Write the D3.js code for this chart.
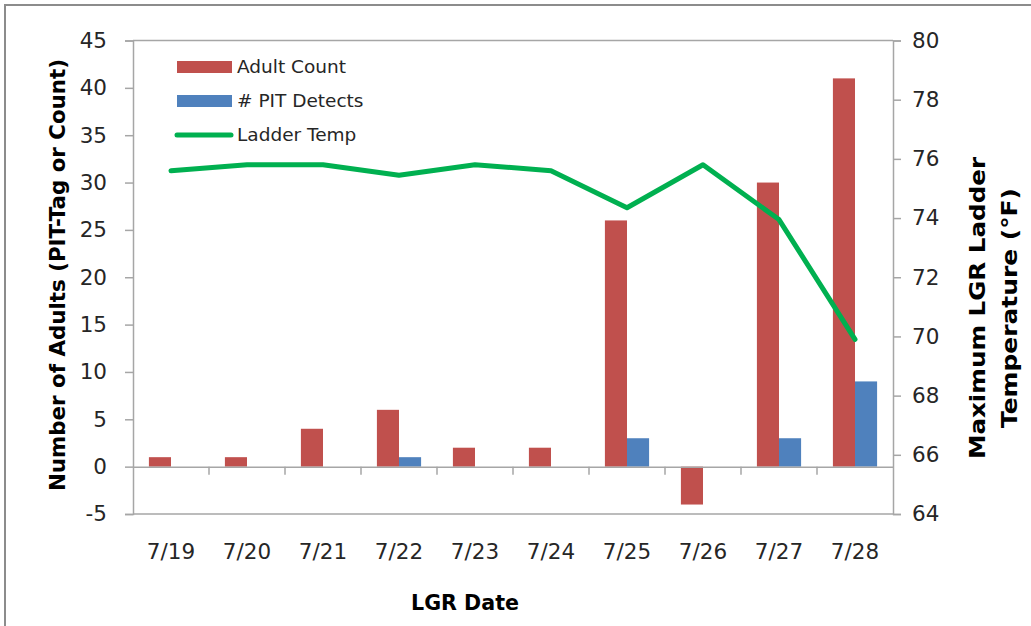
<!DOCTYPE html>
<html>
<head>
<meta charset="utf-8">
<script src="https://cdn.jsdelivr.net/npm/d3@7"></script>
<style>
  html, body { margin: 0; padding: 0; background: #fff; }
  svg { display: block; }
  text { font-family: "DejaVu Sans", "Open Sans", sans-serif; }
</style>
</head>
<body>
<svg id="chart" width="1031" height="626"></svg>
<script>
// Daily observations at Lower Granite (LGR)
const dates = ["7/19", "7/20", "7/21", "7/22", "7/23", "7/24", "7/25", "7/26", "7/27", "7/28"];
const adultCount = [1, 1, 4, 6, 2, 2, 26, -4, 30, 41];
const pitDetects = [0, 0, 0, 1, 0, 0, 3, 0, 3, 9];
const ladderTemp = [75.6, 75.8, 75.8, 75.45, 75.8, 75.6, 74.35, 75.8, 73.95, 69.9];

const leftTicks = [-5, 0, 5, 10, 15, 20, 25, 30, 35, 40, 45];
const rightTicks = [64, 66, 68, 70, 72, 74, 76, 78, 80];

const seriesNames = ["Adult Count", "# PIT Detects", "Ladder Temp"];
const colors = { count: "#C0504D", pit: "#4F81BD", temp: "#00B050" };

const svg = d3.select("#chart");
const plot = { left: 133, right: 893, top: 40.5, bottom: 514 };
const axisColor = "#a6a6a6";
const textColor = "#262626";

// Outer chart frame (left and top edges)
svg.append("path")
  .attr("d", "M5,626 V5 H1031")
  .attr("fill", "none")
  .attr("stroke", "#8c8c8c")
  .attr("stroke-width", 2);

const x0 = d3.scaleBand().domain(dates).range([plot.left, plot.right]).paddingInner(0).paddingOuter(0);
const x1 = d3.scaleBand().domain(["count", "pit"]).range([0, x0.bandwidth()]).paddingInner(0).paddingOuter(0.72);
const yL = d3.scaleLinear().domain([-5, 45]).range([plot.bottom, plot.top]);
const yR = d3.scaleLinear().domain([64, 80]).range([plot.bottom, plot.top]);

// Plot area border lines (top and bottom)
svg.append("line").attr("x1", plot.left).attr("x2", plot.right)
  .attr("y1", yL(45)).attr("y2", yL(45)).attr("stroke", axisColor).attr("stroke-width", 1.5);
svg.append("line").attr("x1", plot.left).attr("x2", plot.right)
  .attr("y1", yL(-5)).attr("y2", yL(-5)).attr("stroke", axisColor).attr("stroke-width", 1.5);

// Left axis
const gL = svg.append("g").attr("transform", `translate(${plot.left},0)`)
  .call(d3.axisLeft(yL).tickValues(leftTicks).tickSize(8).tickPadding(18).tickFormat(d => String(d)));
// Right axis
const gR = svg.append("g").attr("transform", `translate(${plot.right},0)`)
  .call(d3.axisRight(yR).tickValues(rightTicks).tickSize(8).tickPadding(11).tickFormat(d => String(d)));

[gL, gR].forEach(g => {
  g.select(".domain").attr("stroke", axisColor).attr("stroke-width", 1.5);
  g.selectAll(".tick line").attr("stroke", axisColor).attr("stroke-width", 1.5);
  g.selectAll(".tick text")
    .attr("font-family", "'DejaVu Sans', sans-serif")
    .attr("font-size", 21.5).attr("fill", textColor);
});

// Bars
const groups = svg.append("g").selectAll("g")
  .data(dates)
  .join("g")
  .attr("transform", d => `translate(${x0(d)},0)`);

groups.append("rect")
  .attr("x", x1("count"))
  .attr("width", x1.bandwidth())
  .attr("y", (d, i) => yL(Math.max(0, adultCount[i])))
  .attr("height", (d, i) => Math.abs(yL(adultCount[i]) - yL(0)))
  .attr("fill", colors.count);

groups.append("rect")
  .attr("x", x1("pit"))
  .attr("width", x1.bandwidth())
  .attr("y", (d, i) => yL(Math.max(0, pitDetects[i])))
  .attr("height", (d, i) => Math.abs(yL(pitDetects[i]) - yL(0)))
  .attr("fill", colors.pit);

// Category axis along the zero line
const gX = svg.append("g").attr("transform", `translate(0,${yL(0)})`)
  .call(d3.axisBottom(x0).tickSize(0).tickFormat(""));
gX.select(".domain").attr("stroke", axisColor).attr("stroke-width", 1.5);
gX.selectAll(".tick").remove();
gX.selectAll("line.cat")
  .data(dates.slice(1))
  .join("line")
  .attr("class", "cat")
  .attr("x1", d => x0(d)).attr("x2", d => x0(d))
  .attr("y1", 0).attr("y2", 8)
  .attr("stroke", axisColor).attr("stroke-width", 1.5);

// Category labels below the plot
svg.append("g").selectAll("text")
  .data(dates)
  .join("text")
  .attr("x", d => x0(d) + x0.bandwidth() / 2)
  .attr("y", 559)
  .attr("text-anchor", "middle")
  .attr("font-size", 21.5)
  .attr("fill", textColor)
  .text(d => d);

// Temperature line
const line = d3.line()
  .x((d, i) => x0(dates[i]) + x0.bandwidth() / 2)
  .y(d => yR(d));
svg.append("path")
  .datum(ladderTemp)
  .attr("d", line)
  .attr("fill", "none")
  .attr("stroke", colors.temp)
  .attr("stroke-width", 5)
  .attr("stroke-linejoin", "round")
  .attr("stroke-linecap", "round");

// Legend
const legend = svg.append("g").attr("transform", "translate(177,67)");
const legendItems = [
  { name: seriesNames[0], color: colors.count, type: "rect" },
  { name: seriesNames[1], color: colors.pit, type: "rect" },
  { name: seriesNames[2], color: colors.temp, type: "line" }
];
legendItems.forEach((item, i) => {
  const g = legend.append("g").attr("transform", `translate(0,${i * 34})`);
  if (item.type === "rect") {
    g.append("rect").attr("x", 0).attr("y", -6).attr("width", 55).attr("height", 12).attr("fill", item.color);
  } else {
    g.append("line").attr("x1", 0).attr("x2", 54).attr("y1", 0).attr("y2", 0)
      .attr("stroke", item.color).attr("stroke-width", 5).attr("stroke-linecap", "round");
  }
  g.append("text").attr("x", 60).attr("y", 0).attr("dy", "0.35em")
    .attr("font-size", 18.5).attr("fill", textColor).text(item.name);
});

// Axis titles (bold, fitted to their lengths)
const titleSize = 22;
svg.append("text")
  .attr("transform", "translate(65,275) rotate(-90)")
  .attr("text-anchor", "middle")
  .attr("font-size", titleSize).attr("font-weight", "bold").attr("fill", "#000")
  .attr("textLength", 432).attr("lengthAdjust", "spacingAndGlyphs")
  .text("Number of Adults (PIT-Tag or Count)");

const rt = svg.append("g").attr("transform", "translate(985,308) rotate(-90)");
rt.append("text").attr("x", 0).attr("y", 0)
  .attr("text-anchor", "middle")
  .attr("font-size", titleSize).attr("font-weight", "bold").attr("fill", "#000")
  .attr("textLength", 302).attr("lengthAdjust", "spacingAndGlyphs")
  .text("Maximum LGR Ladder");
rt.append("text").attr("x", 0).attr("y", 32)
  .attr("text-anchor", "middle")
  .attr("font-size", titleSize).attr("font-weight", "bold").attr("fill", "#000")
  .attr("textLength", 240).attr("lengthAdjust", "spacingAndGlyphs")
  .text("Temperature (°F)");

svg.append("text")
  .attr("x", 465).attr("y", 610)
  .attr("text-anchor", "middle")
  .attr("font-size", titleSize).attr("font-weight", "bold").attr("fill", "#000")
  .attr("textLength", 108).attr("lengthAdjust", "spacingAndGlyphs")
  .text("LGR Date");
</script>
</body>
</html>
